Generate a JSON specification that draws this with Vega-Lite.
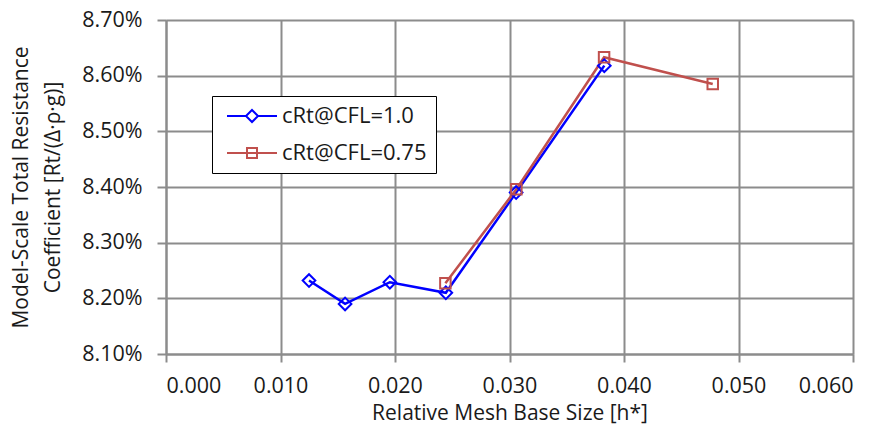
{
  "$schema": "https://vega.github.io/schema/vega-lite/v6.json",
  "width": 687,
  "height": 334,
  "autosize": {"type": "none"},
  "padding": {"left": 166, "top": 20, "right": 27, "bottom": 74},
  "background": "white",
  "config": {
    "font": "Open Sans",
    "view": {"stroke": null},
    "axis": {
      "labelFont": "Open Sans", "titleFont": "Open Sans", "labelFontSize": 21.5, "titleFontSize": 21,
      "labelColor": "#1a1a1a", "titleColor": "#1a1a1a", "titleFontWeight": "normal",
      "gridColor": "#8c8c8c", "gridWidth": 2, "gridOpacity": 1,
      "domainColor": "#8c8c8c", "domainWidth": 2,
      "tickColor": "#8c8c8c", "tickWidth": 2
    }
  },
  "data": {"values": [
    {"h": 0.01249, "cRt": 0.08232, "series": "cRt@CFL=1.0"},
    {"h": 0.01564, "cRt": 0.08190, "series": "cRt@CFL=1.0"},
    {"h": 0.01955, "cRt": 0.08229, "series": "cRt@CFL=1.0"},
    {"h": 0.02444, "cRt": 0.08210, "series": "cRt@CFL=1.0"},
    {"h": 0.03058, "cRt": 0.08390, "series": "cRt@CFL=1.0"},
    {"h": 0.03828, "cRt": 0.08618, "series": "cRt@CFL=1.0"},
    {"h": 0.02440, "cRt": 0.08227, "series": "cRt@CFL=0.75"},
    {"h": 0.03060, "cRt": 0.08396, "series": "cRt@CFL=0.75"},
    {"h": 0.03826, "cRt": 0.08633, "series": "cRt@CFL=0.75"},
    {"h": 0.04775, "cRt": 0.08585, "series": "cRt@CFL=0.75"}
  ]},
  "encoding": {
    "x": {"field": "h", "type": "quantitative",
      "scale": {"domain": [0, 0.06], "nice": false, "zero": false},
      "axis": {"values": [0, 0.01, 0.02, 0.03, 0.04, 0.05, 0.06], "format": ".3f",
        "title": "Relative Mesh Base Size [h*]", "tickSize": 8, "labelPadding": 13, "titlePadding": 6}},
    "y": {"field": "cRt", "type": "quantitative",
      "scale": {"domain": [0.081, 0.087], "nice": false, "zero": false},
      "axis": {"values": [0.081, 0.082, 0.083, 0.084, 0.085, 0.086, 0.087], "format": ".2%",
        "title": ["Model-Scale Total Resistance", "Coefficient [Rt/(Δ·ρ·g)]"],
        "tickSize": 9, "labelPadding": 15, "titlePadding": 18, "titleLineHeight": 32}},
    "color": {"field": "series", "type": "nominal",
      "scale": {"domain": ["cRt@CFL=1.0", "cRt@CFL=0.75"], "range": ["#0000ff", "#c0504d"]},
      "legend": {
        "orient": "none", "legendX": 46, "legendY": 76, "title": null,
        "fillColor": "white", "strokeColor": "black", "padding": 9,
        "labelFont": "Open Sans", "labelFontSize": 22, "labelColor": "#1a1a1a", "labelOffset": 19,
        "rowPadding": 15, "symbolSize": 400, "symbolStrokeWidth": 2, "symbolOffset": 20,
        "symbolFillColor": "transparent",
        "encode": {"symbols": {"update": {
          "shape": {"signal": "datum.value === 'cRt@CFL=1.0' ? 'M-2.5,0H-0.6M0.6,0H2.5M0,-0.6L0.6,0L0,0.6L-0.6,0Z' : 'M-2.5,0H2.5M-0.5,-0.5H0.5V0.5H-0.5Z'"}
        }}}
      }},
    "order": {"field": "h", "type": "quantitative"}
  },
  "layer": [
    {"mark": {"type": "line", "strokeWidth": 2.5}},
    {"transform": [{"filter": "datum.series === 'cRt@CFL=1.0'"}],
     "mark": {"type": "point", "shape": "diamond", "filled": false, "strokeWidth": 2, "opacity": 1, "size": 160}},
    {"transform": [{"filter": "datum.series === 'cRt@CFL=0.75'"}],
     "mark": {"type": "point", "shape": "square", "filled": false, "strokeWidth": 2, "opacity": 1, "size": 110}}
  ]
}
